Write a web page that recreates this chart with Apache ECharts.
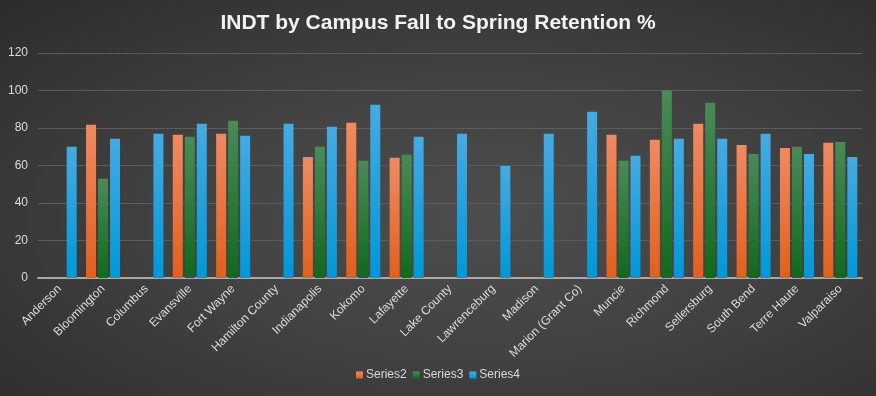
<!DOCTYPE html>
<html>
<head>
<meta charset="utf-8">
<script src="https://cdn.jsdelivr.net/npm/echarts@6/dist/echarts.min.js"></script>
<style>
  html, body { margin: 0; padding: 0; }
  #chart {
    width: 876px; height: 396px;
    background: radial-gradient(ellipse at 55% 55%, #4d4d4d 0%, #424242 45%, #2c2c2c 100%);
  }
</style>
</head>
<body>
<div id="chart"></div>
<script>
  // campuses along the x axis
  var campuses = ['Anderson', 'Bloomington', 'Columbus', 'Evansville', 'Fort Wayne',
    'Hamilton County', 'Indianapolis', 'Kokomo', 'Lafayette', 'Lake County',
    'Lawrenceburg', 'Madison', 'Marion (Grant Co)', 'Muncie', 'Richmond',
    'Sellersburg', 'South Bend', 'Terre Haute', 'Valparaiso'];
  // retention % per series (null = no bar)
  var series2 = [null, 81.7, null, 76.4, 76.9, null, 64.6, 82.8, 64.1, null,
    null, null, null, 76.4, 73.7, 82.3, 71.0, 69.4, 72.1];
  var series3 = [null, 52.9, null, 75.3, 83.9, null, 70.0, 62.5, 65.7, null,
    null, null, null, 62.5, 100, 93.5, 66.2, 70.0, 72.6];
  var series4 = [70.0, 74.3, 76.9, 82.3, 75.9, 82.3, 80.7, 92.4, 75.3, 76.9,
    59.8, 76.9, 88.7, 65.2, 74.3, 74.3, 76.9, 66.2, 64.6];
  var yTicks = { min: 0, max: 120, interval: 20 };

  var chart = echarts.init(document.getElementById('chart'), null, { renderer: 'canvas' });

  function grad(top, bottom) {
    return new echarts.graphic.LinearGradient(0, 0, 0, 1, [
      { offset: 0, color: top },
      { offset: 1, color: bottom }
    ]);
  }

  chart.setOption({
    backgroundColor: 'transparent',
    textStyle: { fontFamily: 'Liberation Sans, Arial, sans-serif' },
    title: {
      text: 'INDT by Campus Fall to Spring Retention %',
      left: 'center',
      top: 8,
      textStyle: { color: '#f2f2f2', fontSize: 21, fontWeight: 'bold' }
    },
    legend: {
      data: ['Series2', 'Series3', 'Series4'],
      bottom: 10,
      left: 'center',
      itemWidth: 7,
      itemHeight: 7,
      itemGap: 6,
      icon: 'rect',
      textStyle: { color: '#d8d8d8', fontSize: 12, padding: [0, 0, 0, -2] }
    },
    grid: { left: 38, right: 14, top: 53, bottom: 118 },
    xAxis: {
      type: 'category',
      data: campuses,
      axisLine: { lineStyle: { color: '#a8a8a8', width: 2 } },
      axisTick: { show: false },
      axisLabel: { color: '#dcdcdc', fontSize: 12, rotate: 45, interval: 0, margin: 9 }
    },
    yAxis: {
      type: 'value',
      min: yTicks.min,
      max: yTicks.max,
      interval: yTicks.interval,
      axisLine: { show: false },
      axisTick: { show: false },
      axisLabel: { color: '#dcdcdc', fontSize: 12, margin: 10 },
      splitLine: { lineStyle: { color: '#5c5c5c', width: 1 } }
    },
    series: [
      {
        name: 'Series2', type: 'bar', data: series2,
        barWidth: 10, barGap: '20%',
        itemStyle: { color: grad('#f08a62', '#e0601e') }
      },
      {
        name: 'Series3', type: 'bar', data: series3,
        barWidth: 10, barGap: '20%',
        itemStyle: { color: grad('#4a8a58', '#0f6a1c') }
      },
      {
        name: 'Series4', type: 'bar', data: series4,
        barWidth: 10, barGap: '20%',
        itemStyle: { color: grad('#46aae2', '#0098d8') }
      }
    ]
  });
</script>
</body>
</html>
